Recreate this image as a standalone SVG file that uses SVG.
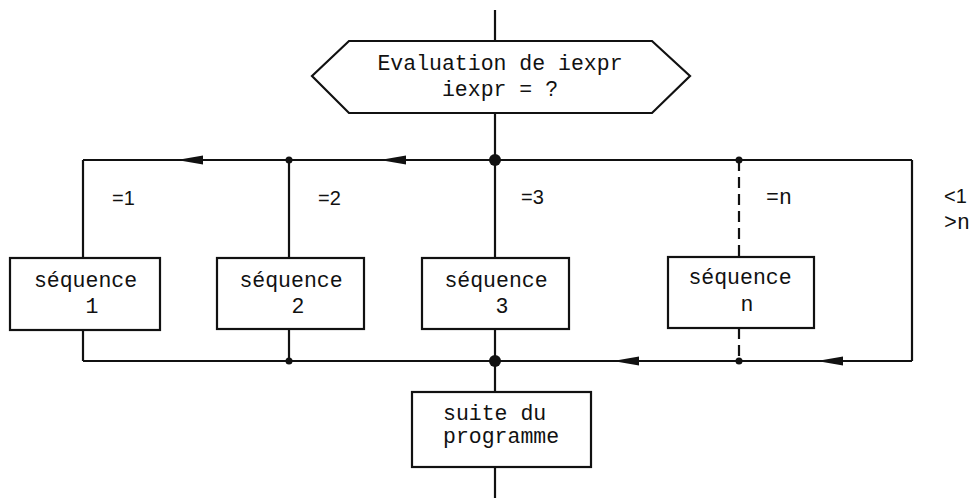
<svg xmlns="http://www.w3.org/2000/svg" width="975" height="498" viewBox="0 0 975 498">
  <style>
    .ln { fill: none; stroke: #111; stroke-width: 2.2; }
    .dash { stroke-dasharray: 11 6; }
    .box { fill: #fff; stroke: #111; stroke-width: 2.2; }
    .t { font-family: "Liberation Mono", "DejaVu Sans Mono", monospace; font-size: 21.5px; fill: #111; }
    .lbl { font-family: "Liberation Sans", Arial, sans-serif; font-size: 20px; fill: #111; }
    .dot { fill: #111; }
    .arw { fill: #111; }
  </style>
  <defs>
    <!-- narrow left-pointing arrowhead, tip at origin -->
    <path id="al" d="M0 0 L26 -4.5 L26 4.5 Z"/>
  </defs>

  <g id="connectors">
    <!-- entry and exit -->
    <line class="ln" x1="495" y1="10" x2="495" y2="41"/>
    <line class="ln" x1="495" y1="113" x2="495" y2="258"/>
    <!-- top distribution bus -->
    <line class="ln" x1="83" y1="160" x2="912" y2="160"/>
    <line class="ln" x1="83" y1="160" x2="83" y2="258"/>
    <line class="ln" x1="289" y1="160" x2="289" y2="258"/>
    <line class="ln dash" x1="739" y1="160" x2="739" y2="257"/>
    <line class="ln" x1="912" y1="160" x2="912" y2="361"/>
    <!-- bottom collecting bus -->
    <line class="ln" x1="83" y1="330" x2="83" y2="361"/>
    <line class="ln" x1="289" y1="329" x2="289" y2="361"/>
    <line class="ln" x1="495" y1="329" x2="495" y2="392"/>
    <line class="ln dash" x1="739" y1="328" x2="739" y2="361"/>
    <line class="ln" x1="83" y1="361" x2="912" y2="361"/>
    <line class="ln" x1="495" y1="467" x2="495" y2="498"/>
    <!-- junctions -->
    <circle class="dot" cx="495" cy="160" r="6"/>
    <circle class="dot" cx="289" cy="160" r="3.5"/>
    <circle class="dot" cx="739" cy="160" r="3.5"/>
    <circle class="dot" cx="495" cy="361" r="6"/>
    <circle class="dot" cx="289" cy="361" r="3.5"/>
    <circle class="dot" cx="739" cy="361" r="3.5"/>
    <!-- flow arrows -->
    <use class="arw" href="#al" x="177" y="160"/>
    <use class="arw" href="#al" x="380" y="160"/>
    <use class="arw" href="#al" x="613" y="361"/>
    <use class="arw" href="#al" x="817" y="361"/>
    <!-- branch labels -->
    <text class="lbl" x="112" y="205">=1</text>
    <text class="lbl" x="318" y="205">=2</text>
    <text class="lbl" x="521" y="204">=3</text>
    <text class="t" x="766" y="204">=n</text>
    <text class="lbl" x="944" y="203">&lt;1</text>
    <text class="t" x="944" y="229">&gt;n</text>
  </g>

  <g id="evaluation">
    <polygon class="box" points="312,76 349,41 652,41 690,76 652,113 349,113"/>
    <text class="t" x="500" y="70" text-anchor="middle">Evaluation de iexpr</text>
    <text class="t" x="500" y="96" text-anchor="middle">iexpr = ?</text>
  </g>

  <g id="seq1">
    <rect class="box" x="10" y="258" width="150" height="72"/>
    <text class="t" x="85.5" y="287" text-anchor="middle">séquence</text>
    <text class="t" x="92" y="313" text-anchor="middle">1</text>
  </g>

  <g id="seq2">
    <rect class="box" x="217" y="258" width="147" height="71"/>
    <text class="t" x="291" y="287" text-anchor="middle">séquence</text>
    <text class="t" x="298" y="313" text-anchor="middle">2</text>
  </g>

  <g id="seq3">
    <rect class="box" x="422" y="258" width="147" height="71"/>
    <text class="t" x="496" y="287" text-anchor="middle">séquence</text>
    <text class="t" x="502" y="313" text-anchor="middle">3</text>
  </g>

  <g id="seqn">
    <rect class="box" x="668" y="257" width="146" height="71"/>
    <text class="t" x="740" y="284" text-anchor="middle">séquence</text>
    <text class="t" x="747" y="311" text-anchor="middle">n</text>
  </g>

  <g id="suite">
    <rect class="box" x="412" y="392" width="179" height="75"/>
    <text class="t" x="443" y="420">suite du</text>
    <text class="t" x="443" y="443">programme</text>
  </g>
</svg>
